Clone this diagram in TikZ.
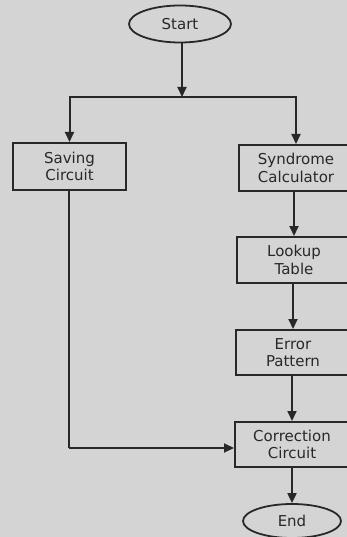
\documentclass[tikz,border=0pt]{standalone}
\usepackage{fontspec}
\setmainfont{DejaVu Sans}
\usetikzlibrary{arrows.meta,shapes.geometric}
\definecolor{bg}{RGB}{212,212,212}
\definecolor{ink}{RGB}{40,40,40}
\tikzset{
  boxnode/.style={draw=ink, line width=2pt, minimum width=114pt, minimum height=46pt, align=center, text=ink, font=\fontsize{15}{17.5}\selectfont, inner sep=0pt},
  ovalnode/.style={draw=ink, line width=1.8pt, ellipse, minimum width=102pt, minimum height=37pt, inner sep=0pt, text=ink, font=\fontsize{15}{17.5}\selectfont},
  conn/.style={draw=ink, line width=2pt},
  arr/.style={conn, -{Triangle[width=9pt,length=10pt]}}
}
\begin{document}
\begin{tikzpicture}[x=1pt,y=-1pt]
\fill[bg] (0,0) rectangle (347,537);
\useasboundingbox (0,0) rectangle (347,537);
\clip (0,0) rectangle (347,537);
\node[ovalnode] (start) at (180,24) {Start};
\node[boxnode, minimum width=113pt, minimum height=47pt] (save) at (69.5,166.5) {Saving\\Circuit};
\node[boxnode] (synd) at (296,168) {Syndrome\\Calculator};
\node[boxnode] (look) at (294,260) {Lookup\\Table};
\node[boxnode, minimum height=45pt] (err) at (293,352.5) {Error\\Pattern};
\node[boxnode, minimum height=45pt] (corr) at (292,444.5) {Correction\\Circuit};
\node[ovalnode, minimum width=98pt, minimum height=34pt] (end) at (292,521) {End};
\coordinate (j) at (182,97);
\coordinate (k) at (69,448);
\draw[arr] (start.south -| j) -- (j);
\draw[arr] (j) -| (save.north);
\draw[arr] (j) -| (synd.north);
\draw[arr] (synd.south -| look.north) -- (look.north);
\draw[arr] (look.south -| err.north) -- (err.north);
\draw[arr] (err.south -| corr.north) -- (corr.north);
\draw[arr] (corr.south) -- (end.north);
\draw[conn] (save.south -| k) -- (k);
\draw[arr] (k) -- (k -| corr.west);
\end{tikzpicture}
\end{document}
